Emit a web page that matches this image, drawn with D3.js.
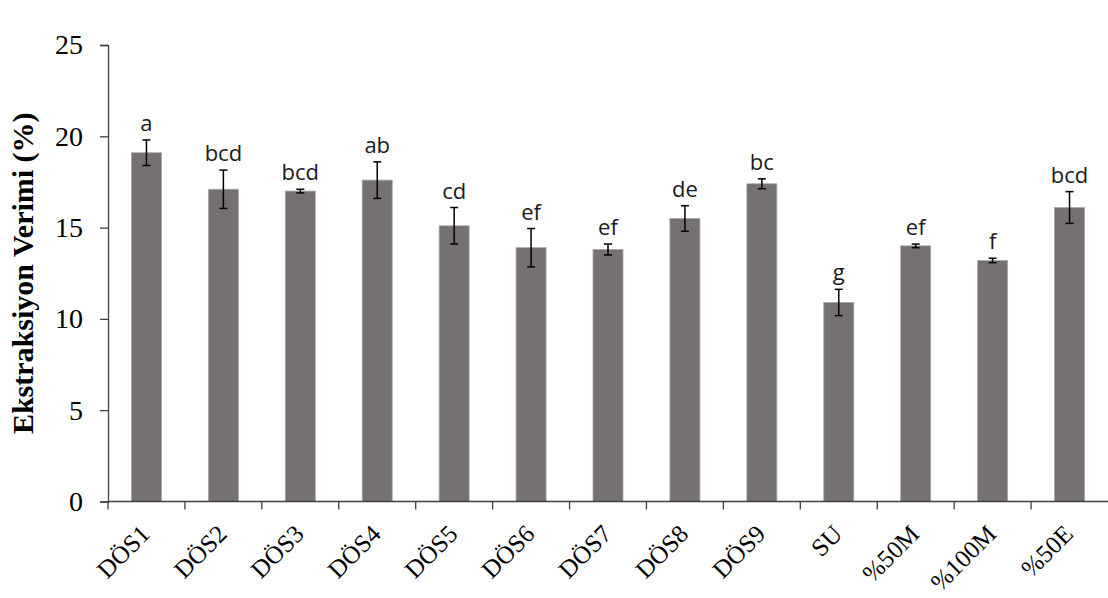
<!DOCTYPE html>
<html>
<head>
<meta charset="utf-8">
<script src="https://cdn.jsdelivr.net/npm/d3@7.9.0/dist/d3.min.js"></script>
<style>
  html, body { margin: 0; padding: 0; background: #fff; }
  svg { display: block; }
</style>
</head>
<body>
<div id="chart"></div>
<script>
// values
const categories = ['DÖS1', 'DÖS2', 'DÖS3', 'DÖS4', 'DÖS5', 'DÖS6', 'DÖS7', 'DÖS8', 'DÖS9', 'SU', '%50M', '%100M', '%50E'];
const values = [19.1, 17.1, 17.0, 17.6, 15.1, 13.9, 13.8, 15.5, 17.4, 10.9, 14.0, 13.2, 16.1];
const errors = [0.7, 1.05, 0.1, 1.0, 1.0, 1.05, 0.3, 0.7, 0.27, 0.72, 0.1, 0.12, 0.87];
const letters = ['a', 'bcd', 'bcd', 'ab', 'cd', 'ef', 'ef', 'de', 'bc', 'g', 'ef', 'f', 'bcd'];
const yTicks = [0, 5, 10, 15, 20, 25];
const yTitle = 'Ekstraksiyon Verimi (%)';

const width = 1108;
const height = 598;
const margin = { top: 45, right: 0, bottom: 96.5, left: 108 };

const svg = d3.select('#chart')
  .append('svg')
  .attr('width', width)
  .attr('height', height);

const xScale = d3.scaleBand()
  .domain(categories)
  .range([margin.left, width - margin.right])
  .padding(0);

const yScale = d3.scaleLinear()
  .domain([0, 25])
  .range([height - margin.bottom, margin.top]);

const barW = xScale.bandwidth() * 0.39;
const axisColor = '#404040';

// bars
svg.append('g')
  .selectAll('rect')
  .data(categories)
  .join('rect')
  .attr('x', (d) => xScale(d) + xScale.bandwidth() / 2 - barW / 2)
  .attr('y', (d, i) => yScale(values[i]))
  .attr('width', barW)
  .attr('height', (d, i) => yScale(0) - yScale(values[i]))
  .attr('fill', '#767171')
  .attr('stroke', '#a8a5a5')
  .attr('stroke-width', 0.8);

// error bars
const err = svg.append('g')
  .attr('stroke', '#000')
  .attr('stroke-width', 1.5);

categories.forEach((c, i) => {
  const cx = xScale(c) + xScale.bandwidth() / 2;
  const hi = yScale(values[i] + errors[i]);
  const lo = yScale(values[i] - errors[i]);
  err.append('line').attr('x1', cx).attr('x2', cx).attr('y1', hi).attr('y2', lo);
  err.append('line').attr('x1', cx - 4).attr('x2', cx + 4).attr('y1', hi).attr('y2', hi);
  err.append('line').attr('x1', cx - 4).attr('x2', cx + 4).attr('y1', lo).attr('y2', lo);
});

// significance letters
svg.append('g')
  .selectAll('text')
  .data(categories)
  .join('text')
  .attr('x', (d) => xScale(d) + xScale.bandwidth() / 2)
  .attr('y', (d, i) => yScale(values[i] + errors[i]) - 9)
  .attr('text-anchor', 'middle')
  .style('font-family', '"Open Sans", sans-serif')
  .style('font-size', '22px')
  .attr('fill', '#1a1a1a')
  .text((d, i) => letters[i]);

// y axis
const yAxis = svg.append('g')
  .attr('transform', `translate(${margin.left},0)`)
  .call(d3.axisLeft(yScale).tickValues(yTicks).tickSize(8).tickPadding(17));

yAxis.select('.domain').attr('stroke', axisColor).attr('stroke-width', 1.3);
yAxis.selectAll('.tick line').attr('stroke', axisColor).attr('stroke-width', 1.3);
yAxis.selectAll('.tick text')
  .style('font-family', '"Liberation Serif", serif')
  .style('font-size', '28px')
  .attr('fill', '#000');

// x axis: line, boundary ticks, rotated labels
const xAxis = svg.append('g');
const y0 = yScale(0);

xAxis.append('line')
  .attr('x1', margin.left).attr('x2', width - margin.right)
  .attr('y1', y0).attr('y2', y0)
  .attr('stroke', axisColor)
  .attr('stroke-width', 1.3);

xAxis.selectAll('.xtick')
  .data(categories)
  .join('line')
  .attr('class', 'xtick')
  .attr('x1', (d) => xScale(d)).attr('x2', (d) => xScale(d))
  .attr('y1', y0).attr('y2', y0 + 8)
  .attr('stroke', axisColor)
  .attr('stroke-width', 1.3);

xAxis.selectAll('.xlabel')
  .data(categories)
  .join('text')
  .attr('class', 'xlabel')
  .attr('transform', (d) => `translate(${xScale(d) + xScale.bandwidth() / 2 + 5},${y0 + 34}) rotate(-45)`)
  .attr('text-anchor', 'end')
  .style('font-family', '"Liberation Serif", serif')
  .style('font-size', '25px')
  .attr('fill', '#000')
  .text((d) => d);

// y title
svg.append('text')
  .attr('transform', `translate(33,${(margin.top + y0) / 2}) rotate(-90)`)
  .attr('text-anchor', 'middle')
  .style('font-family', '"Liberation Serif", serif')
  .style('font-weight', 'bold')
  .style('font-size', '30px')
  .attr('fill', '#000')
  .text(yTitle);
</script>
</body>
</html>
